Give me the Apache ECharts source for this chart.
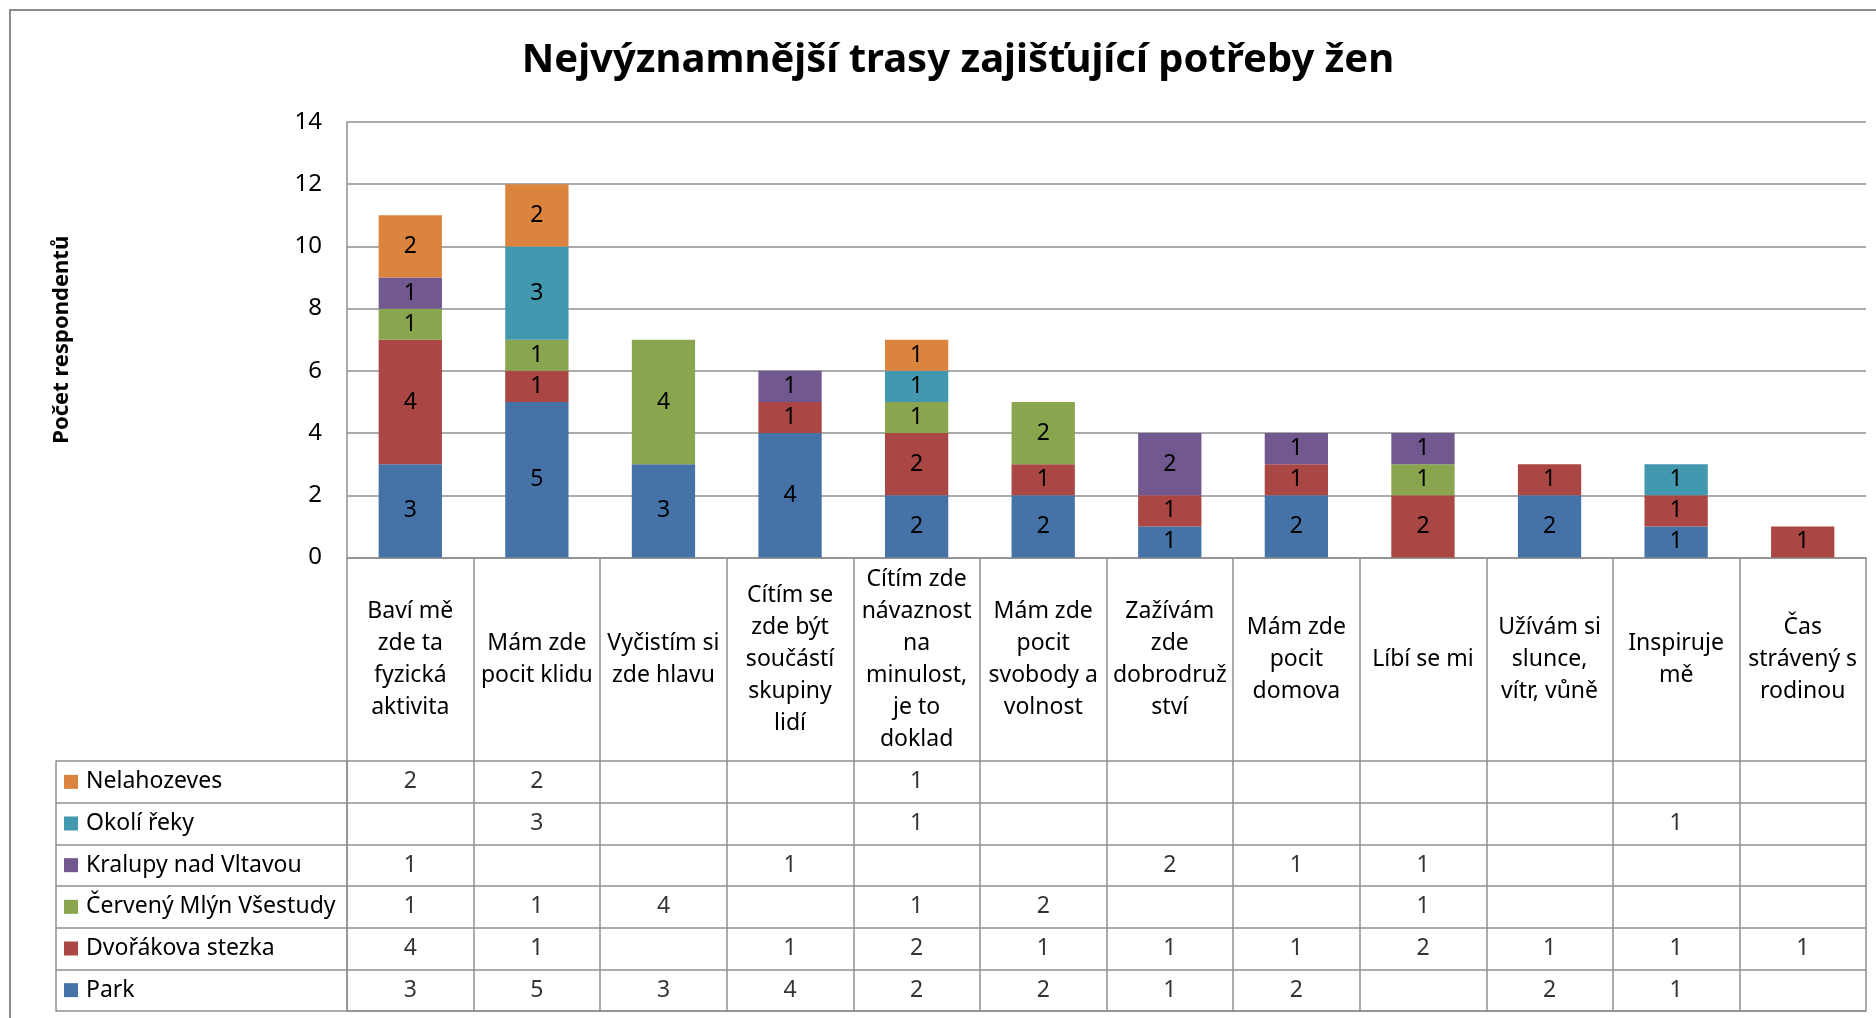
<!DOCTYPE html>
<html lang="cs">

<head>
    <meta charset="UTF-8">
    <title>Nejvýznamnější trasy</title>
    <style>
        html,
        body {
            margin: 0;
            padding: 0;
            width: 100%;
            height: 100%;
            background: #fff;
            overflow: hidden;
        }

        #frame {
            position: absolute;
            left: 9px;
            top: 9px;
            width: 2000px;
            height: 1100px;
            border-left: 2px solid #8c8c8c;
            border-top: 2px solid #8c8c8c;
            pointer-events: none;
        }
    </style>
</head>

<body>
    <div id="main" style="width: 1876px;height:1018px;"></div>
    <div id="frame"></div>
    <script src="https://cdn.jsdelivr.net/npm/echarts@6/dist/echarts.min.js"></script>
    <script type="text/javascript">
        // kategorie (zalomené jako v originále)
        var categories = [
            'Baví mě\nzde ta\nfyzická\naktivita',
            'Mám zde\npocit klidu',
            'Vyčistím si\nzde hlavu',
            'Cítím se\nzde být\nsoučástí\nskupiny\nlidí',
            'Cítím zde\nnávaznost\nna\nminulost,\nje to\ndoklad',
            'Mám zde\npocit\nsvobody a\nvolnost',
            'Zažívám\nzde\ndobrodruž\nství',
            'Mám zde\npocit\ndomova',
            'Líbí se mi',
            'Užívám si\nslunce,\nvítr, vůně',
            'Inspiruje\nmě',
            'Čas\nstrávený s\nrodinou'
        ];
        var yTicks = [0, 2, 4, 6, 8, 10, 12, 14];

        var park = [3, 5, 3, 4, 2, 2, 1, 2, null, 2, 1, null];
        var dvorakova = [4, 1, null, 1, 2, 1, 1, 1, 2, 1, 1, 1];
        var cervenyMlyn = [1, 1, 4, null, 1, 2, null, null, 1, null, null, null];
        var kralupy = [1, null, null, 1, null, null, 2, 1, 1, null, null, null];
        var okoliReky = [null, 3, null, null, 1, null, null, null, null, null, 1, null];
        var nelahozeves = [2, 2, null, null, 1, null, null, null, null, null, null, null];

        var seriesNames = ['Park', 'Dvořákova stezka', 'Červený Mlýn Všestudy', 'Kralupy nad Vltavou', 'Okolí řeky', 'Nelahozeves'];
        var seriesData = [park, dvorakova, cervenyMlyn, kralupy, okoliReky, nelahozeves];
        var colors = ['#4572A7', '#AA4643', '#89A54E', '#71588F', '#4198AF', '#DB843D'];

        var font = "'Noto Sans', sans-serif";
        var lineColor = '#8f8f8f';

        var myChart = echarts.init(document.getElementById('main'));

        var rich = {};
        colors.forEach(function (c, i) {
            rich['sq' + i] = { width: 14, height: 14, backgroundColor: c };
            rich['t' + i] = { fontSize: 23, fontFamily: font, color: '#000', padding: [0, 0, 0, 8] };
        });

        var series = [];
        // sloupce
        seriesData.forEach(function (d, i) {
            series.push({
                name: seriesNames[i],
                type: 'bar',
                stack: 'celkem',
                barCategoryGap: '50%',
                xAxisIndex: 0,
                yAxisIndex: 0,
                itemStyle: { color: colors[i] },
                label: {
                    show: true,
                    position: 'inside',
                    color: '#000',
                    fontSize: 23,
                    fontFamily: font
                },
                data: d
            });
        });
        // tabulka s hodnotami
        seriesData.forEach(function (d, i) {
            var cells = [];
            d.forEach(function (v, c) {
                if (v != null) cells.push([c, i, v]);
            });
            series.push({
                name: seriesNames[i] + ' (tabulka)',
                type: 'scatter',
                xAxisIndex: 1,
                yAxisIndex: 1,
                symbolSize: 1,
                itemStyle: { color: 'rgba(0,0,0,0)' },
                silent: true,
                label: {
                    show: true,
                    position: 'inside',
                    color: '#000',
                    fontSize: 23,
                    fontFamily: font,
                    formatter: function (p) { return p.value[2]; }
                },
                data: cells
            });
        });

        var option = {
            animation: false,
            title: {
                text: 'Nejvýznamnější trasy zajišťující potřeby žen',
                left: 953,
                textAlign: 'center',
                top: 36,
                textStyle: { fontSize: 40, fontWeight: 'bold', fontFamily: font, color: '#000' }
            },
            grid: [
                { left: 347, right: 10, top: 122, height: 435.5 },
                { left: 347, right: 10, top: 761, height: 250 }
            ],
            xAxis: [
                {
                    gridIndex: 0,
                    type: 'category',
                    data: categories,
                    axisLine: { lineStyle: { color: lineColor, width: 1.5 } },
                    axisTick: { show: true, length: 204, lineStyle: { color: lineColor, width: 1.5 } },
                    axisLabel: {
                        margin: 102,
                        verticalAlign: 'middle',
                        lineHeight: 32,
                        fontSize: 23,
                        fontFamily: font,
                        color: '#000',
                        interval: 0
                    }
                },
                {
                    gridIndex: 1,
                    type: 'category',
                    data: categories,
                    axisLine: { show: true, lineStyle: { color: lineColor, width: 1.5 } },
                    axisTick: { show: false },
                    axisLabel: { show: false },
                    splitLine: { show: true, lineStyle: { color: lineColor, width: 1.5 } }
                }
            ],
            yAxis: [
                {
                    gridIndex: 0,
                    type: 'value',
                    min: yTicks[0],
                    max: yTicks[yTicks.length - 1],
                    interval: 2,
                    name: 'Počet respondentů',
                    nameLocation: 'middle',
                    nameGap: 274,
                    nameTextStyle: { fontSize: 22, fontWeight: 'bold', fontFamily: font, color: '#000' },
                    axisLine: { show: true, lineStyle: { color: lineColor, width: 1.5 } },
                    axisTick: { show: false },
                    axisLabel: { fontSize: 24, fontFamily: font, color: '#000', margin: 25 },
                    splitLine: { lineStyle: { color: lineColor, width: 1.5 } }
                },
                {
                    gridIndex: 1,
                    type: 'category',
                    data: seriesNames,
                    axisLine: { show: true, lineStyle: { color: lineColor, width: 1.5 } },
                    axisTick: { show: true, length: 291, lineStyle: { color: lineColor, width: 1.5 } },
                    splitLine: { show: true, lineStyle: { color: lineColor, width: 1.5 } },
                    axisLabel: {
                        margin: 283,
                        align: 'left',
                        formatter: function (v, i) {
                            return '{sq' + i + '|}{t' + i + '|' + v + '}';
                        },
                        rich: rich
                    }
                },
                {
                    gridIndex: 1,
                    type: 'value',
                    position: 'left',
                    offset: 291,
                    axisLine: { show: true, lineStyle: { color: lineColor, width: 1.5 } },
                    axisTick: { show: false },
                    axisLabel: { show: false },
                    splitLine: { show: false }
                }
            ],
            series: series
        };
        myChart.setOption(option);
    </script>
</body>

</html>
